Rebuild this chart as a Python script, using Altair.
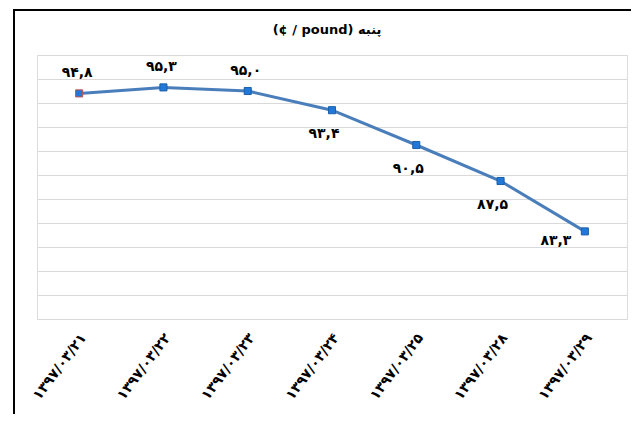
import altair as alt
import pandas as pd

dates = ["۱۳۹۷/۰۳/۲۱", "۱۳۹۷/۰۳/۲۲", "۱۳۹۷/۰۳/۲۳", "۱۳۹۷/۰۳/۲۴",
         "۱۳۹۷/۰۳/۲۵", "۱۳۹۷/۰۳/۲۸", "۱۳۹۷/۰۳/۲۹"]
values = [94.8, 95.3, 95.0, 93.4, 90.5, 87.5, 83.3]
labels = ["۹۴,۸", "۹۵,۳", "۹۵,۰", "۹۳,۴", "۹۰,۵", "۸۷,۵", "۸۳,۳"]
title_text = "(¢ / pound) پنبه"

df = pd.DataFrame({"date": dates, "value": values, "label": labels,
                   "i": list(range(len(dates)))})

FONT = "DejaVu Sans"

x = alt.X("date:N", sort=dates, title=None,
          scale=alt.Scale(type="point", padding=0.5),
          axis=alt.Axis(labelAngle=307, labelAlign="right", labelBaseline="middle",
                        labelPadding=16, labelOffset=4, ticks=False, domain=True,
                        domainColor="#D9D9D9", domainWidth=1,
                        labelFont=FONT, labelFontSize=14, labelFontWeight="bold",
                        labelColor="#000000"))
y = alt.Y("value:Q", title=None,
          scale=alt.Scale(domain=[76, 98], nice=False, zero=False),
          axis=alt.Axis(values=list(range(76, 99, 2)), labels=False, ticks=False,
                        domain=False, grid=True, gridColor="#D9D9D9", gridWidth=1))

base = alt.Chart(df)

line = base.mark_line(color="#4A7EBB", strokeWidth=3).encode(x=x, y=y)
pts = base.mark_point(shape="square", filled=True, size=50, color="#2178D8",
                      strokeWidth=1, opacity=1).encode(
    x=x, y=y,
    stroke=alt.condition("datum.i == 0", alt.value("#C0504D"), alt.value("#1A5FA8")))

txt_style = dict(font=FONT, fontSize=14, fontWeight="bold", color="#000000")
above = base.transform_filter("datum.i < 3").mark_text(dy=-20, dx=-2, **txt_style).encode(
    x=x, y=y, text="label:N")
below = base.transform_filter("datum.i >= 3 && datum.i < 6").mark_text(dy=24, dx=-8, **txt_style).encode(
    x=x, y=y, text="label:N")
last = base.transform_filter("datum.i == 6").mark_text(dy=10, dx=-29, **txt_style).encode(
    x=x, y=y, text="label:N")

title = alt.Chart(pd.DataFrame({"t": [title_text]})).mark_text(
    font=FONT, fontSize=13, fontWeight="bold", color="#000000").encode(
    text="t:N", x=alt.value(290), y=alt.value(-25))

frame = alt.Chart(pd.DataFrame({"k": [0]})).mark_rect(
    fill=None, stroke="#000000", strokeWidth=2).encode(
    x=alt.value(-23), x2=alt.value(700), y=alt.value(-45), y2=alt.value(500))

chart = alt.layer(line, pts, above, below, last, title, frame).properties(
    width=590, height=264,
    autosize=alt.AutoSizeParams(type="none"),
    padding={"left": 29, "top": 47, "right": 4, "bottom": 95},
).configure_view(strokeWidth=0, stroke="transparent").configure(background="#FFFFFF")

chart.save("out.html", embed_options={"renderer": "svg", "actions": False})
